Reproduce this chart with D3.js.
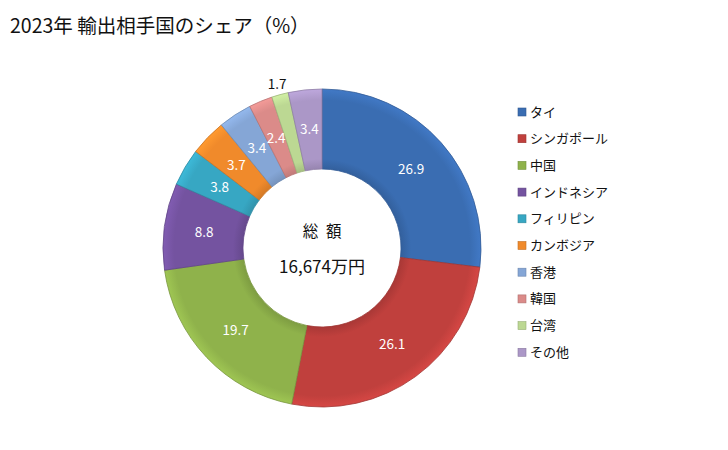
<!DOCTYPE html>
<html>
<head>
<meta charset="utf-8">
<script src="https://cdn.jsdelivr.net/npm/d3@7"></script>
<style>
  body { margin: 0; background: #fff; }
  svg { font-family: "Noto Sans CJK JP", "Noto Sans", sans-serif; }
</style>
</head>
<body>
<svg id="chart" width="728" height="450"></svg>
<script>
// データ
const countries = ["タイ", "シンガポール", "中国", "インドネシア", "フィリピン", "カンボジア", "香港", "韓国", "台湾", "その他"];
const shares = [26.9, 26.1, 19.7, 8.8, 3.8, 3.7, 3.4, 2.4, 1.7, 3.4];
const colors = ["#3a6db2", "#c0403d", "#8fb24b", "#7453a0", "#37a7c3", "#f08a2b", "#85a6d6", "#db8b89", "#bcd893", "#ab97c7"];
const outsideLabels = ["台湾"];

const width = 728, height = 450;
const cx = 322, cy = 248;
const outerR = 159, innerR = 79;

const svg = d3.select("#chart");

// タイトル
svg.append("text")
  .attr("x", 10).attr("y", 33)
  .style("font-size", "19.5px")
  .attr("fill", "#111")
  .text("2023年 輸出相手国のシェア（%）");

const data = countries.map((name, i) => ({ name, value: shares[i], color: colors[i] }));

const pie = d3.pie().value((d) => d.value).sort(null);
const arc = d3.arc().innerRadius(innerR).outerRadius(outerR);
const labelArc = d3.arc().innerRadius(119).outerRadius(119);
const outArc = d3.arc().innerRadius(170).outerRadius(170);

// グラデーション（立体感）
const defs = svg.append("defs");
data.forEach((d, i) => {
  const g = defs.append("radialGradient")
    .attr("id", "grad" + i)
    .attr("gradientUnits", "userSpaceOnUse")
    .attr("cx", 0).attr("cy", 0).attr("r", outerR);
  const c = d3.color(d.color);
  g.append("stop").attr("offset", innerR / outerR).attr("stop-color", c.darker(0.35));
  g.append("stop").attr("offset", 0.56).attr("stop-color", c);
  g.append("stop").attr("offset", 0.93).attr("stop-color", c);
  g.append("stop").attr("offset", 1).attr("stop-color", c.brighter(0.3));
});

const g = svg.append("g").attr("transform", `translate(${cx},${cy})`);
const arcs = pie(data);

g.selectAll("path")
  .data(arcs)
  .join("path")
  .attr("d", arc)
  .attr("fill", (d, i) => `url(#grad${i})`)
  .attr("stroke", (d) => d3.color(d.data.color).darker(0.5))
  .attr("stroke-width", 0.8);

// データラベル
g.selectAll("text.val")
  .data(arcs)
  .join("text")
  .attr("class", "val")
  .attr("transform", (d) => {
    const a = outsideLabels.includes(d.data.name) ? outArc : labelArc;
    return `translate(${a.centroid(d)})`;
  })
  .attr("text-anchor", "middle")
  .attr("dy", "0.35em")
  .style("font-size", "13.5px")
  .attr("fill", (d) => outsideLabels.includes(d.data.name) ? "#111" : "#fff")
  .text((d) => d3.format(".1f")(d.data.value));

// 中央テキスト
g.append("text")
  .attr("text-anchor", "middle").attr("y", -11)
  .style("font-size", "15.5px").attr("fill", "#111")
  .text("総\u2002額");
g.append("text")
  .attr("text-anchor", "middle").attr("y", 25)
  .style("font-size", "17px").attr("fill", "#111")
  .text("16,674万円");

// 凡例
const legend = svg.append("g").attr("transform", "translate(518,112)");
const rowH = 26.7;
const item = legend.selectAll("g")
  .data(data)
  .join("g")
  .attr("transform", (d, i) => `translate(0,${i * rowH})`);
item.append("rect")
  .attr("x", 0).attr("y", -4)
  .attr("width", 8).attr("height", 8)
  .attr("fill", (d) => d.color)
  .attr("stroke", (d) => d3.color(d.color).darker(0.6))
  .attr("stroke-width", 0.6);
item.append("text")
  .attr("x", 12).attr("dy", "0.35em")
  .style("font-size", "13px").attr("fill", "#111")
  .text((d) => d.name);
</script>
</body>
</html>
